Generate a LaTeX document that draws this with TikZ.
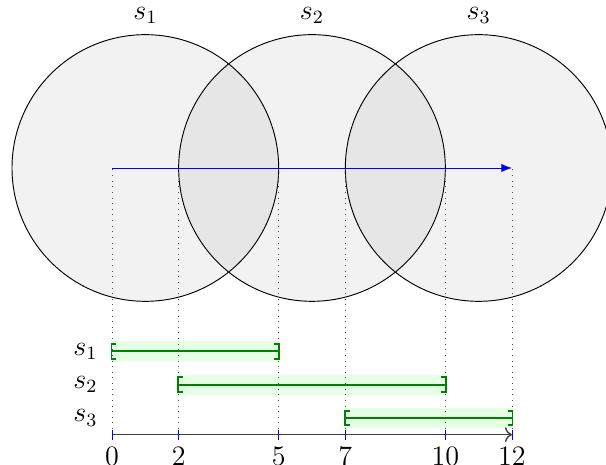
\documentclass[tikz,border=0pt]{standalone}
\usetikzlibrary{arrows.meta}
\begin{document}
\begin{tikzpicture}[x=0.5cm,y=0.5cm,font=\large,
  disk/.style={draw=black,fill=black,fill opacity=0.05},
  guide/.style={dotted,black!70},
  ivl/.style={green!50!black,thick,shorten <=-0.6pt,shorten >=-0.6pt,{Bracket[width=7pt,length=2pt]}-{Bracket[width=7pt,length=2pt]}},
  ivlbg/.style={fill=green!10,draw=none},
  tickmark/.style={blue,thin}]
\useasboundingbox (-3.36,-0.9) rectangle (14.82,13.04);
% circles
\node[circle,disk,minimum size=4cm,inner sep=0pt] (c1) at (1,8) {};
\node[circle,disk,minimum size=4cm,inner sep=0pt] (c2) at (6,8) {};
\node[circle,disk,minimum size=4cm,inner sep=0pt] (c3) at (11,8) {};
\node (l1) at (1,12.58) {$s_1$};
\node (l2) at (6,12.58) {$s_2$};
\node (l3) at (11,12.58) {$s_3$};
% axis points
\foreach \v in {0,2,5,7,10,12}{
  \coordinate (a\v) at (\v,0);
  \coordinate (t\v) at (\v,8);
}
% interval backgrounds
\fill[ivlbg] (0,2.2) rectangle (5,2.8);
\fill[ivlbg] (2,1.2) rectangle (10,1.8);
\fill[ivlbg] (7,0.2) rectangle (12,0.8);
% guides
\foreach \v in {0,2,5,7,10,12}{
  \draw[guide] (a\v) -- (t\v);
}
% blue arrow
\draw[blue,-{Latex[length=4.5pt,width=3.5pt]}] (t0) -- (t12);
% intervals
\coordinate (i1a) at (0,2.5); \coordinate (i1b) at (5,2.5);
\coordinate (i2a) at (2,1.5); \coordinate (i2b) at (10,1.5);
\coordinate (i3a) at (7,0.5); \coordinate (i3b) at (12,0.5);
\draw[ivl] (i1a) -- (i1b);
\draw[ivl] (i2a) -- (i2b);
\draw[ivl] (i3a) -- (i3b);
\node (r1) at (-0.8,2.5) {$s_1$};
\node (r2) at (-0.8,1.5) {$s_2$};
\node (r3) at (-0.8,0.5) {$s_3$};
% axis
\draw[black!75,semithick,-{To[length=3pt]}] (a0) -- (a12);
\foreach \v in {0,2,5,7,10,12}{
  \draw[tickmark] (\v,-0.15) -- (\v,0.15);
  \node (n\v) at (\v,-0.64) {$\v$};
}
\end{tikzpicture}
\end{document}
